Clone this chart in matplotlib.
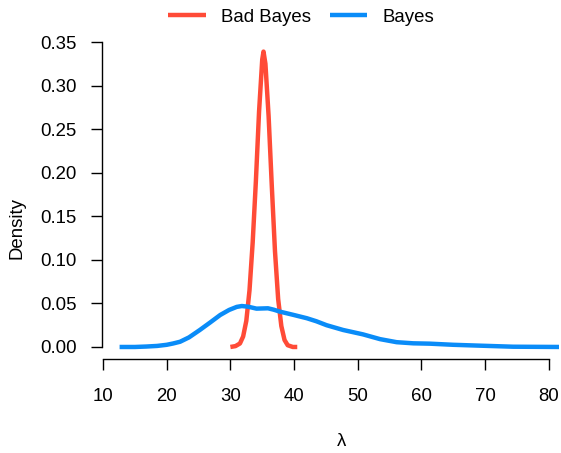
import matplotlib.pyplot as plt

plt.rcParams['font.family'] = ['Liberation Sans', 'DejaVu Sans']

# density curves
bad_x = [30.0, 30.8, 31.5, 32.0, 32.5, 33.0, 33.5, 34.0, 34.5, 35.0, 35.2,
         35.5, 36.0, 36.5, 37.0, 37.5, 38.0, 38.5, 39.0, 39.8, 40.5]
bad_y = [0.000, 0.001, 0.004, 0.012, 0.030, 0.065, 0.120, 0.190, 0.270, 0.330, 0.339,
         0.325, 0.265, 0.185, 0.110, 0.055, 0.024, 0.008, 0.002, 0.000, 0.000]

bayes_x = [12.6, 15.0, 16.8, 18.5, 20.0, 21.0, 22.1, 23.5, 25.2, 26.8, 28.4, 29.8,
           31.0, 31.8, 32.8, 34.1, 35.0, 35.9, 36.8, 37.8, 39.8, 42.0, 43.5,
           45.1, 47.7, 50.8, 53.5, 56.1, 58.7, 61.3, 65.0, 69.2, 74.4, 82.0]
bayes_y = [0.000, 0.000, 0.0005, 0.0012, 0.0025, 0.004, 0.006, 0.011, 0.0195, 0.028, 0.0367, 0.0425,
           0.046, 0.047, 0.0462, 0.044, 0.0442, 0.0444, 0.0428, 0.0405, 0.037, 0.033, 0.0295,
           0.025, 0.0195, 0.0145, 0.009, 0.0055, 0.0042, 0.0038, 0.0025, 0.0015, 0.0003, 0.000]

x_ticks = [10, 20, 30, 40, 50, 60, 70, 80]
y_ticks = [0.00, 0.05, 0.10, 0.15, 0.20, 0.25, 0.30, 0.35]

red = '#FF4B37'
blue = '#0A8CF8'
fs = 13.4

fig = plt.figure(figsize=(5.61, 4.53), dpi=100)
ax = fig.add_axes([101.5 / 561, 1 - 359 / 453, (559 - 101.5) / 561, (359 - 40) / 453])

ax.plot(bad_x, bad_y, color=red, lw=3.2, label='Bad Bayes', solid_capstyle='butt')
ax.plot(bayes_x, bayes_y, color=blue, lw=3.2, label='Bayes', solid_capstyle='butt')

ax.set_xlim(9.76, 81.6)
ax.set_ylim(-0.0138, 0.3523)

ax.spines['top'].set_visible(False)
ax.spines['right'].set_visible(False)
ax.spines['left'].set_bounds(0, 0.35)
ax.spines['bottom'].set_bounds(10, 80)
ax.spines['left'].set_linewidth(1.0)
ax.spines['bottom'].set_linewidth(1.0)

ax.set_xticks(x_ticks)
ax.set_xticklabels([str(v) for v in x_ticks])
ax.set_yticks(y_ticks)
ax.set_yticklabels(['%.2f' % v for v in y_ticks])
ax.tick_params(axis='both', direction='out', length=7.9, width=1.0, labelsize=fs)
ax.tick_params(axis='y', pad=10.0)
ax.tick_params(axis='x', pad=13.3)

fig.text(17 / 561, 0.497, 'Density', rotation=90, ha='center', va='center', fontsize=fs)
fig.text(342 / 561, 1 - 441 / 453, 'λ', ha='center', va='center', fontsize=fs)

fig.legend(loc='center', bbox_to_anchor=(301.5 / 561, 1 - 17 / 453), ncol=2, frameon=False,
           fontsize=fs, handlelength=2.0, handletextpad=0.85, columnspacing=1.0)

fig.savefig('out.png', dpi=100)
